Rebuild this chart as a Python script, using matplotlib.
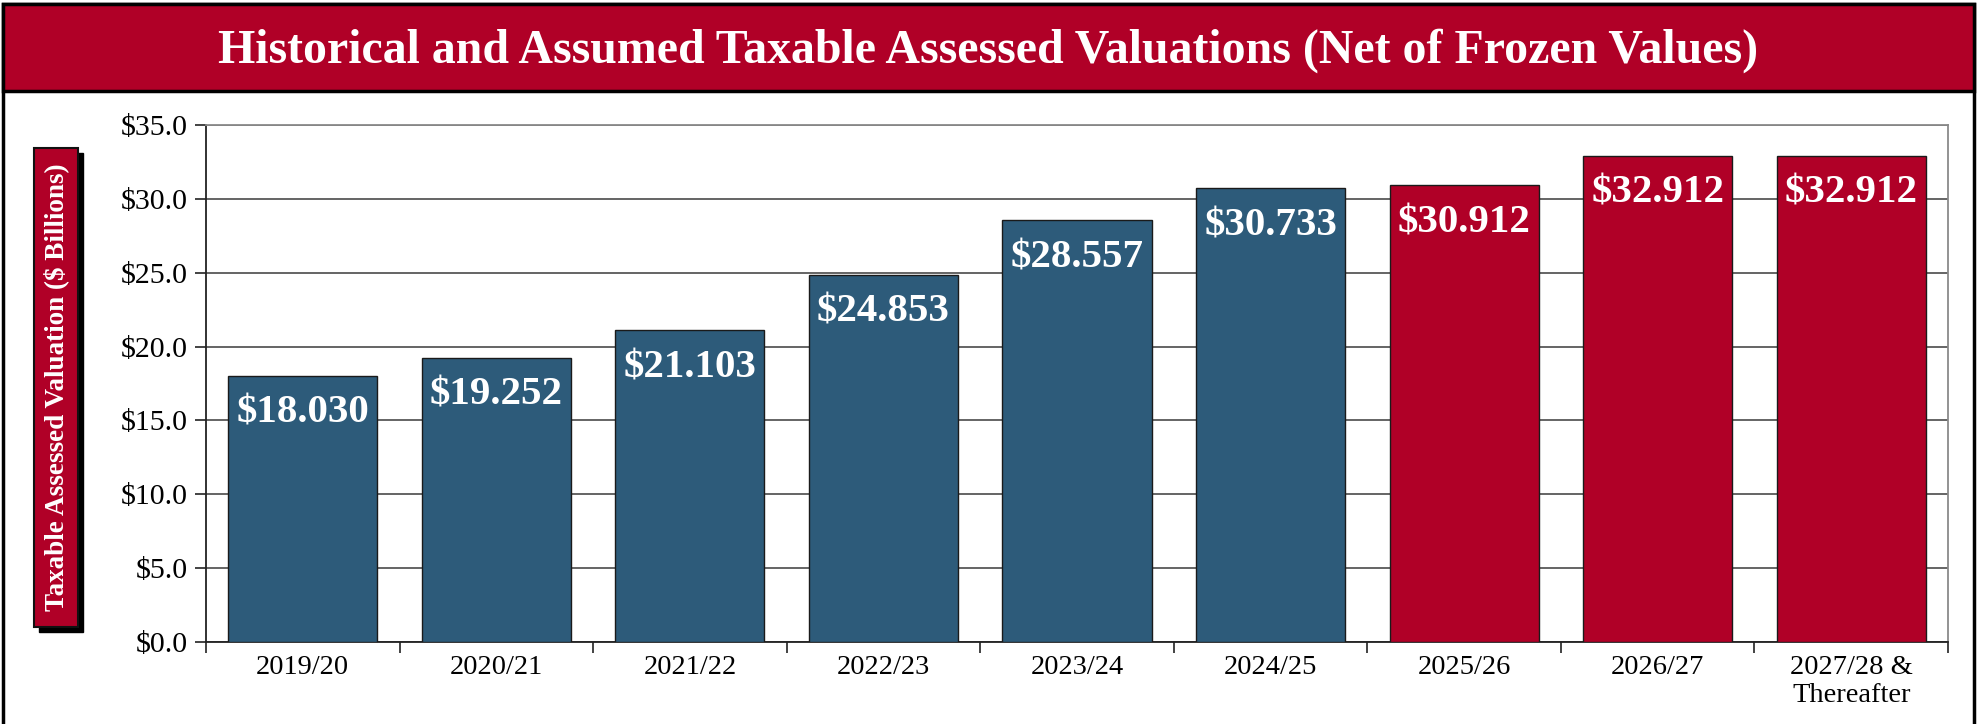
import matplotlib
matplotlib.use("Agg")
import matplotlib.pyplot as plt
from matplotlib.patches import Rectangle

categories = ["2019/20", "2020/21", "2021/22", "2022/23", "2023/24", "2024/25",
              "2025/26", "2026/27", "2027/28 &\nThereafter"]
values = [18.030, 19.252, 21.103, 24.853, 28.557, 30.733, 30.912, 32.912, 32.912]
is_projected = [False, False, False, False, False, False, True, True, True]
yticks = [0, 5, 10, 15, 20, 25, 30, 35]
title = "Historical and Assumed Taxable Assessed Valuations (Net of Frozen Values)"
ylabel = "Taxable Assessed Valuation ($ Billions)"

BLUE = "#2D5B7A"
RED = "#B00027"
SERIF = ["Liberation Serif", "DejaVu Serif"]

W, H = 1977, 724
fig = plt.figure(figsize=(W / 100, H / 100), dpi=100)
fig.patch.set_facecolor("white")

def fx(px):
    return px / W

def fy(py):
    return 1 - py / H

# outer frame (bottom edge runs off the image)
fig.add_artist(Rectangle((fx(3), fy(740)), fx(1971), fy(4) - fy(740),
                         transform=fig.transFigure, fill=False, edgecolor="black", lw=2.5))
# title band
fig.add_artist(Rectangle((fx(3), fy(91)), fx(1971), fy(4) - fy(91),
                         transform=fig.transFigure, facecolor=RED, edgecolor="black", lw=2.5))
fig.text(0.5, fy(51), title, ha="center", va="center", color="white",
         fontsize=34.5, fontweight="bold", family=SERIF)

# axes
ax = fig.add_axes([fx(206), fy(642), fx(1948) - fx(206), fy(125) - fy(642)])
x = list(range(len(categories)))
colors = [RED if p else BLUE for p in is_projected]
ax.bar(x, values, width=0.77, color=colors, edgecolor="#1a1a1a", linewidth=1.0, zorder=3)
ax.set_xlim(-0.5, len(categories) - 0.5)
ax.set_ylim(0, 35)
ax.set_yticks(yticks)
ax.set_yticklabels([f"${v:.1f}" for v in yticks], fontsize=21.5, family=SERIF)
ax.yaxis.grid(True, color="#4a4a4a", lw=1.2, zorder=0)
ax.set_axisbelow(True)

# x ticks at boundaries, labels centered
ax.set_xticks([i + 0.5 for i in range(-1, len(categories))])
ax.set_xticklabels([])
ax.set_xticks(x, minor=True)
ax.set_xticklabels(categories, minor=True, fontsize=20.5, family=SERIF, linespacing=1.2)
ax.tick_params(axis="x", which="minor", length=0, pad=9)
ax.tick_params(axis="x", which="major", length=8, width=1.2, color="#222222", direction="out")
ax.tick_params(axis="y", length=8, width=1.2, color="#222222", pad=5)
for t in ax.get_xticklabels(minor=True):
    t.set_verticalalignment("top")

for side in ["left", "bottom"]:
    ax.spines[side].set_color("#222222")
    ax.spines[side].set_linewidth(1.3)
for side in ["top", "right"]:
    ax.spines[side].set_color("#8a8a8a")
    ax.spines[side].set_linewidth(1.3)

for xi, v in zip(x, values):
    ax.annotate(f"${v:.3f}", (xi, v), xytext=(0, -27), textcoords="offset points",
                ha="center", va="center", color="white", fontsize=29.5,
                fontweight="bold", family=SERIF, zorder=5)

# y label box with shadow
bx0, by0, bw, bh = fx(34), fy(627), fx(44), fy(148) - fy(627)
sh_dx, sh_dy = fx(5), fy(0) - fy(5)
fig.add_artist(Rectangle((bx0 + sh_dx, by0 - sh_dy), bw, bh, transform=fig.transFigure,
                         facecolor="black", edgecolor="black", lw=1))
fig.add_artist(Rectangle((bx0, by0), bw, bh, transform=fig.transFigure,
                         facecolor=RED, edgecolor="#111111", lw=1.5))
fig.text(bx0 + bw / 2, by0 + bh / 2, ylabel, rotation=90, ha="center", va="center",
         color="white", fontsize=19.5, fontweight="bold", family=SERIF)

fig.savefig("out.png", dpi=100)
